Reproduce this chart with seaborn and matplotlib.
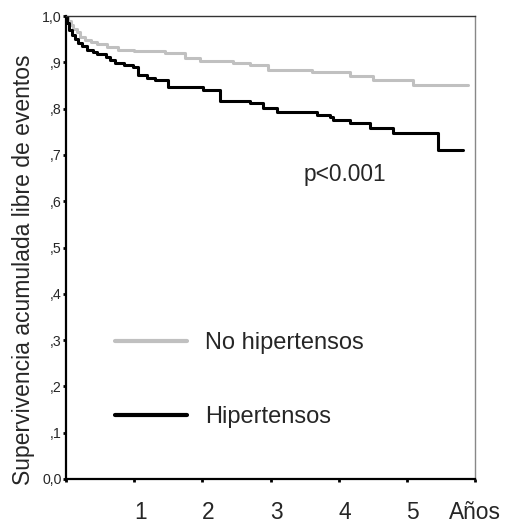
import matplotlib
matplotlib.use("Agg")
import matplotlib.pyplot as plt
import matplotlib.transforms as mtransforms
import numpy as np
import pandas as pd
import seaborn as sns

# Kaplan-Meier event-free survival (step starts, in years)
no_hta_time = [0.00, 0.03, 0.07, 0.11, 0.16, 0.21, 0.28, 0.36, 0.45, 0.60, 0.76,
               1.00, 1.45, 1.75, 1.96, 2.45, 2.70, 2.96, 3.61, 4.16, 4.50, 5.09, 5.89]
no_hta_surv = [1.000, 0.990, 0.980, 0.972, 0.965, 0.955, 0.948, 0.944, 0.940, 0.933, 0.927,
               0.925, 0.920, 0.910, 0.902, 0.898, 0.895, 0.884, 0.879, 0.870, 0.862, 0.851, 0.851]

hta_time = [0.00, 0.02, 0.05, 0.09, 0.13, 0.17, 0.23, 0.31, 0.40, 0.45, 0.58, 0.65,
            0.72, 0.85, 0.98, 1.06, 1.19, 1.30, 1.50, 2.01, 2.26, 2.70, 2.89, 3.09,
            3.68, 3.87, 3.91, 4.16, 4.46, 4.79, 5.45, 5.82]
hta_surv = [1.000, 0.985, 0.970, 0.960, 0.950, 0.942, 0.935, 0.927, 0.922, 0.918, 0.912, 0.905,
            0.898, 0.895, 0.890, 0.873, 0.866, 0.862, 0.847, 0.840, 0.816, 0.812, 0.801, 0.793,
            0.786, 0.782, 0.775, 0.769, 0.758, 0.747, 0.711, 0.711]

groups = ["No hipertensos", "Hipertensos"]
colors = {"No hipertensos": "#c0c0c0", "Hipertensos": "#000000"}

y_ticks = [0.0, 0.1, 0.2, 0.3, 0.4, 0.5, 0.6, 0.7, 0.8, 0.9, 1.0]
y_tick_labels = ["0,0", ",1", ",2", ",3", ",4", ",5", ",6", ",7", ",8", ",9", "1,0"]
x_ticks = [0, 1, 2, 3, 4, 5, 6]
x_tick_labels = ["", "1", "2", "3", "4", "5", "Años"]

df = pd.concat([
    pd.DataFrame({"t": no_hta_time, "s": no_hta_surv, "g": groups[0]}),
    pd.DataFrame({"t": hta_time, "s": hta_surv, "g": groups[1]}),
], ignore_index=True)

sns.set_style("ticks")
plt.rcParams["font.family"] = ["Liberation Sans", "DejaVu Sans"]

fig = plt.figure(figsize=(5.08, 5.25), dpi=100)
ax = fig.add_axes([66 / 508, 1 - 479 / 525, 409 / 508, 463 / 525])

sns.lineplot(data=df, x="t", y="s", hue="g", hue_order=groups, palette=colors,
             drawstyle="steps-post", estimator=None, sort=False,
             linewidth=2.2, legend=False, ax=ax)

ax.set_xlim(0, 6)
ax.set_ylim(0, 1)
ax.set_xticks(x_ticks)
ax.set_xticklabels(x_tick_labels, fontsize=16.4)
ax.set_yticks(y_ticks)
ax.set_yticklabels(y_tick_labels, fontsize=10.2)
ax.set_xlabel("")
ax.set_ylabel("Supervivencia acumulada libre de eventos", fontsize=16.5)
ax.yaxis.set_label_coords(-0.075, 0.451)

ax.tick_params(axis="x", direction="out", length=2.5, width=2, pad=13, color="black")
ax.tick_params(axis="y", direction="out", length=2.5, width=2, pad=0.5, color="black")

# nudge the year numbers slightly right of their ticks
offset = mtransforms.ScaledTranslation(6 / 100, 0, fig.dpi_scale_trans)
for lab in ax.get_xticklabels()[1:6]:
    lab.set_transform(lab.get_transform() + offset)

for side in ["left", "bottom"]:
    ax.spines[side].set_color("black")
    ax.spines[side].set_linewidth(1.6)
ax.spines["top"].set_color("#333333")
ax.spines["top"].set_linewidth(1.0)
ax.spines["right"].set_color("#888888")
ax.spines["right"].set_linewidth(1.0)

ax.text(4.09, 0.657, "p<0.001", fontsize=16.4, ha="center", va="center")

leg = ax.legend(handles=ax.lines[:2], labels=groups, loc="upper left",
                bbox_to_anchor=((115 - 66) / 409, 0.318), frameon=False,
                fontsize=17, handlelength=3.05, handletextpad=0.78,
                labelspacing=2.22, borderpad=0, borderaxespad=0)
for h in leg.get_lines():
    h.set_linewidth(3.0)

fig.savefig("out.png", dpi=100)
